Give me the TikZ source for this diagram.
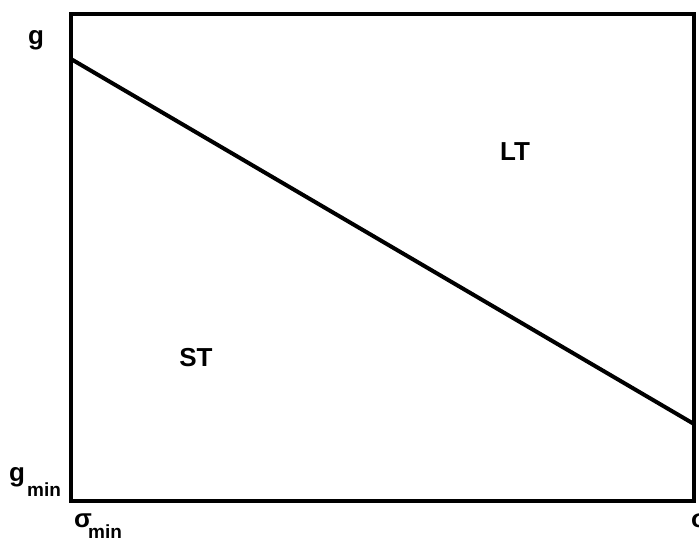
\documentclass[tikz,border=0pt]{standalone}
\usepackage{fontspec}
\setmainfont{Liberation Sans}
\tikzset{
  frame/.style={line width=4pt, line join=miter},
  curve/.style={line width=4pt},
  lab/.style={inner sep=0pt, font=\fontsize{26}{30}\selectfont\bfseries},
  sublab/.style={inner sep=0pt, font=\fontsize{19}{22}\selectfont\bfseries}
}
\begin{document}
\begin{tikzpicture}[x=1pt,y=-1pt]
\useasboundingbox (0,0) rectangle (699,541);
\coordinate (tl) at (71,13.5);
\coordinate (br) at (694,501);
\draw[frame] (tl) rectangle (br);
\coordinate (a) at (71,59);
\coordinate (b) at (694,424);
\draw[curve] (a) -- (b);
\node[lab, anchor=base] (g) at (36,44) {g};
\node[lab, anchor=base west] (gmin) at (9,481) {g};
\node[sublab, anchor=base west] (gminsub) at (27,496) {min};
\node[lab, anchor=base west] (smin) at (74,527) {σ};
\node[sublab, anchor=base west] (sminsub) at (88,538) {min};
\node[lab, anchor=base west] (smax) at (691,527) {σ};
\node[lab] (LT) at (515,152) {LT};
\node[lab] (ST) at (196,358) {ST};
\end{tikzpicture}
\end{document}
